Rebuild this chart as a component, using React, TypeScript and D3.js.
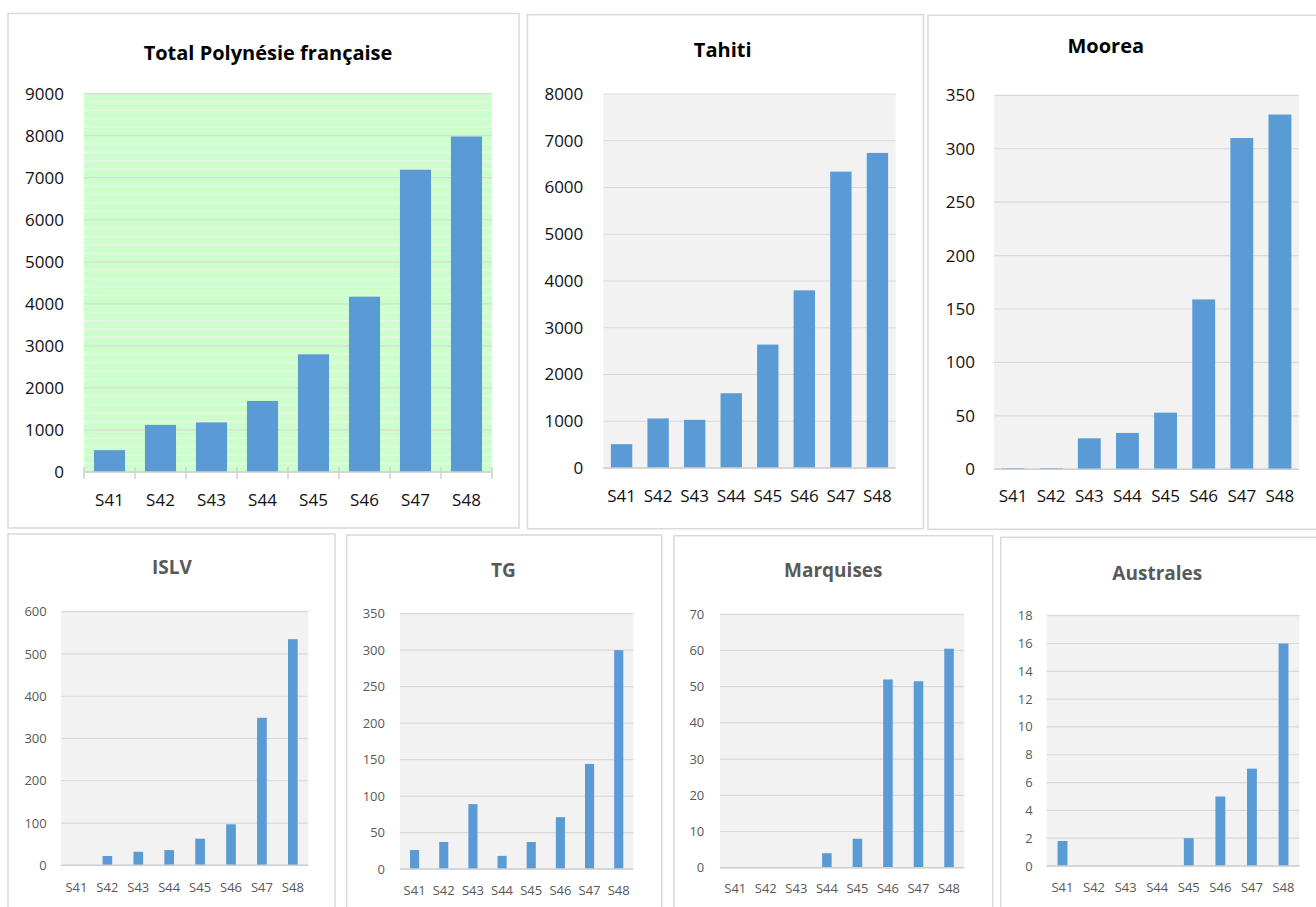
import React from "react";
import * as d3 from "d3";

const weeks = ["S41", "S42", "S43", "S44", "S45", "S46", "S47", "S48"];

const totalValues = [520, 1120, 1180, 1690, 2800, 4170, 7190, 7980];
const tahitiValues = [510, 1060, 1030, 1600, 2640, 3800, 6340, 6740];
const mooreaValues = [1, 1, 29, 34, 53, 159, 310, 332];
const islvValues = [0, 22, 32, 36, 63, 97, 349, 535];
const tgValues = [26, 37, 89, 18, 37, 71, 144, 300];
const marquisesValues = [0, 0, 0, 4, 8, 52, 51.5, 60.5];
const australesValues = [1.8, 0, 0, 0, 2, 5, 7, 16];

const totalTicks = d3.range(0, 9001, 1000);
const tahitiTicks = d3.range(0, 8001, 1000);
const mooreaTicks = d3.range(0, 351, 50);
const islvTicks = d3.range(0, 601, 100);
const tgTicks = d3.range(0, 351, 50);
const marquisesTicks = d3.range(0, 71, 10);
const australesTicks = d3.range(0, 19, 2);

const FONT = "'Open Sans', 'DejaVu Sans', sans-serif";
const BAR = "#5b9bd5";

type PanelProps = {
  box: { x: number; y: number; w: number; h: number };
  plot: { l: number; t: number; r: number; b: number };
  title: string;
  titleX: number;
  titleY: number;
  titleSize: number;
  textColor: string;
  titleColor: string;
  labelSize: number;
  labelRight: number;
  xLabelY: number;
  values: number[];
  ticks: number[];
  pad: number;
  bg: string;
  minorStep?: number;
  xTicks?: boolean;
};

function Panel(p: PanelProps) {
  const max = p.ticks[p.ticks.length - 1];
  const x = d3.scaleBand<string>().domain(weeks).range([p.plot.l, p.plot.r]).paddingInner(p.pad).paddingOuter(p.pad / 2);
  const y = d3.scaleLinear().domain([0, max]).range([p.plot.b, p.plot.t]);
  const minor = p.minorStep ? d3.range(0, max + 0.001, p.minorStep).filter((v) => !p.ticks.includes(v)) : [];
  const step = x.step();
  return (
    <g>
      <rect x={p.box.x} y={p.box.y} width={p.box.w} height={p.box.h} fill="#ffffff" stroke="#d9d9d9" strokeWidth={1.5} />
      <text x={p.titleX} y={p.titleY} textAnchor="middle" fontFamily={FONT} fontWeight={700} fontSize={p.titleSize} fill={p.titleColor}>
        {p.title}
      </text>
      <rect x={p.plot.l} y={p.plot.t} width={p.plot.r - p.plot.l} height={p.plot.b - p.plot.t} fill={p.bg} />
      {minor.map((v) => (
        <line key={"m" + v} x1={p.plot.l} x2={p.plot.r} y1={y(v)} y2={y(v)} stroke="#eef2ee" strokeWidth={1.2} />
      ))}
      {p.ticks.map((v) => (
        <line key={"g" + v} x1={p.plot.l} x2={p.plot.r} y1={y(v)} y2={y(v)} stroke="#d9d9d9" strokeWidth={1.2} />
      ))}
      {p.ticks.map((v) => (
        <text key={"t" + v} x={p.labelRight} y={y(v)} dy="0.35em" textAnchor="end" fontFamily={FONT} fontSize={p.labelSize} fill={p.textColor}>
          {v}
        </text>
      ))}
      {weeks.map((w, i) => {
        const v = p.values[i];
        if (!v) return null;
        return <rect key={"b" + w} x={x(w)} y={y(v)} width={x.bandwidth()} height={y(0) - y(v)} fill={BAR} />;
      })}
      <line x1={p.plot.l} x2={p.plot.r} y1={y(0)} y2={y(0)} stroke="#d0d0d0" strokeWidth={1.5} />
      {p.xTicks &&
        d3.range(weeks.length + 1).map((i) => (
          <line key={"xt" + i} x1={p.plot.l + i * step} x2={p.plot.l + i * step} y1={y(0) - 5} y2={y(0) + 7} stroke="#d0d0d0" strokeWidth={1.5} />
        ))}
      {weeks.map((w) => (
        <text key={"xl" + w} x={(x(w) as number) + x.bandwidth() / 2} y={p.xLabelY} textAnchor="middle" fontFamily={FONT} fontSize={p.labelSize} fill={p.textColor}>
          {w}
        </text>
      ))}
    </g>
  );
}

export default function App() {
  const top = { textColor: "#111111", titleColor: "#000000", labelSize: 17, titleSize: 20 };
  const bottom = { textColor: "#595959", titleColor: "#595959", labelSize: 13, titleSize: 19, pad: 0.687, bg: "#f2f2f2" };
  return (
    <div style={{ position: "absolute", left: 0, top: 0 }}>
      <svg width={1316} height={907} style={{ display: "block", background: "#ffffff" }}>
        <Panel
          {...top}
          box={{ x: 8, y: 13.5, w: 511, h: 514.5 }}
          plot={{ l: 84, t: 93.6, r: 492, b: 472 }}
          title="Total Polynésie française"
          titleX={268}
          titleY={60}
          labelRight={64}
          xLabelY={506}
          values={totalValues}
          ticks={totalTicks}
          pad={0.39}
          bg="#ccffcc"
          minorStep={200}
          xTicks
        />
        <Panel
          {...top}
          box={{ x: 527.5, y: 14.7, w: 396, h: 514 }}
          plot={{ l: 603.3, t: 94, r: 895.7, b: 468 }}
          title="Tahiti"
          titleX={722.7}
          titleY={56.7}
          labelRight={583.3}
          xLabelY={501.7}
          values={tahitiValues}
          ticks={tahitiTicks}
          pad={0.415}
          bg="#f2f2f2"
        />
        <Panel
          {...top}
          box={{ x: 928, y: 15.3, w: 400, h: 514 }}
          plot={{ l: 994, t: 95.3, r: 1299, b: 469.3 }}
          title="Moorea"
          titleX={1105.8}
          titleY={53.3}
          labelRight={975}
          xLabelY={501.7}
          values={mooreaValues}
          ticks={mooreaTicks}
          pad={0.4}
          bg="#f2f2f2"
        />
        <Panel
          {...bottom}
          box={{ x: 8, y: 534, w: 327, h: 400 }}
          plot={{ l: 61, t: 611.7, r: 308.3, b: 865.3 }}
          title="ISLV"
          titleX={172}
          titleY={574.3}
          labelRight={46.7}
          xLabelY={891.7}
          values={islvValues}
          ticks={islvTicks}
        />
        <Panel
          {...bottom}
          box={{ x: 346.7, y: 535, w: 315, h: 400 }}
          plot={{ l: 400, t: 613.7, r: 633.3, b: 869 }}
          title="TG"
          titleX={503.3}
          titleY={576.7}
          labelRight={385}
          xLabelY={895}
          values={tgValues}
          ticks={tgTicks}
        />
        <Panel
          {...bottom}
          box={{ x: 674, y: 535.7, w: 318.7, h: 400 }}
          plot={{ l: 720, t: 614.3, r: 964.3, b: 867.7 }}
          title="Marquises"
          titleX={833.3}
          titleY={576.7}
          labelRight={704.3}
          xLabelY={892.7}
          values={marquisesValues}
          ticks={marquisesTicks}
        />
        <Panel
          {...bottom}
          box={{ x: 1000.7, y: 537.3, w: 330, h: 400 }}
          plot={{ l: 1046.7, t: 615.7, r: 1299.3, b: 866 }}
          title="Australes"
          titleX={1157.3}
          titleY={580}
          labelRight={1032.7}
          xLabelY={891.7}
          values={australesValues}
          ticks={australesTicks}
        />
      </svg>
    </div>
  );
}
